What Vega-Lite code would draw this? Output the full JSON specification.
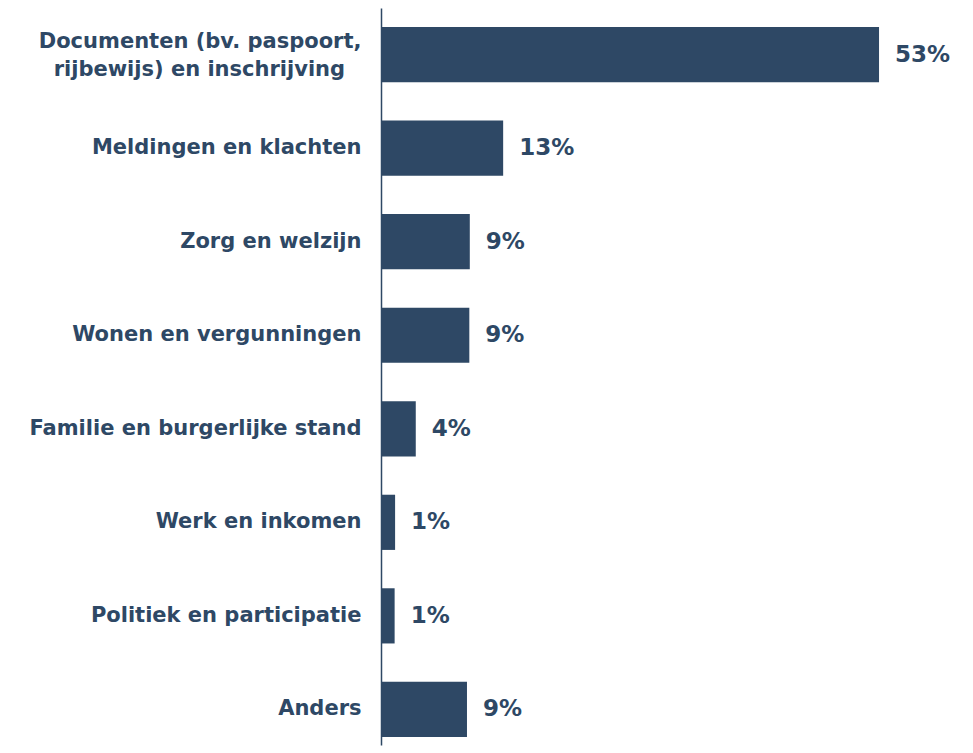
{
  "$schema": "https://vega.github.io/schema/vega-lite/v6.json",
  "autosize": {"type": "none"},
  "padding": {"left": 381, "top": 8, "right": 0, "bottom": 8},
  "width": 592,
  "height": 737,
  "background": "white",
  "config": {"view": {"stroke": null}},
  "data": {
    "values": [
      {"cat": "Documenten (bv. paspoort,|rijbewijs) en inschrijving\u2800", "value": 53, "pct": "53%"},
      {"cat": "Meldingen en klachten", "value": 13, "pct": "13%"},
      {"cat": "Zorg en welzijn", "value": 9.45, "pct": "9%"},
      {"cat": "Wonen en vergunningen", "value": 9.4, "pct": "9%"},
      {"cat": "Familie en burgerlijke stand", "value": 3.7, "pct": "4%"},
      {"cat": "Werk en inkomen", "value": 1.5, "pct": "1%"},
      {"cat": "Politiek en participatie", "value": 1.45, "pct": "1%"},
      {"cat": "Anders", "value": 9.15, "pct": "9%"}
    ]
  },
  "encoding": {
    "y": {
      "field": "cat", "type": "nominal", "sort": null,
      "scale": {"paddingInner": 0.41, "paddingOuter": 0.1443, "align": 0.704},
      "axis": {
        "title": null, "ticks": false, "grid": false,
        "domainColor": "#2E4865", "domainWidth": 1.5,
        "labelPadding": 20, "labelFont": "DejaVu Sans", "labelFontWeight": "bold",
        "labelFontSize": 21, "labelColor": "#2E4865", "labelLimit": 400,
        "labelLineHeight": 28.5,
        "labelOffset": {"condition": {"test": "indexof(datum.value, '|') >= 0", "value": -13}, "value": 0},
        "labelExpr": "split(datum.value, '|')"
      }
    },
    "x": {
      "field": "value", "type": "quantitative",
      "scale": {"domain": [0, 63], "nice": false},
      "axis": null
    }
  },
  "layer": [
    {"mark": {"type": "bar", "color": "#2E4865"}},
    {"mark": {"type": "text", "align": "left", "baseline": "middle", "dx": 16, "font": "DejaVu Sans", "fontWeight": "bold", "fontSize": 23, "color": "#2E4865"},
     "encoding": {"text": {"field": "pct"}}}
  ]
}
